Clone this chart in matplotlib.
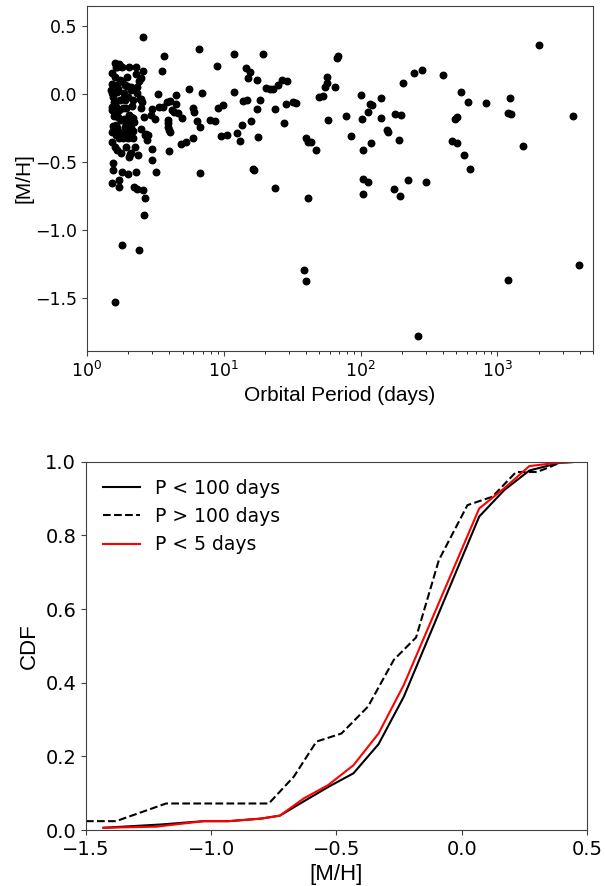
import numpy as np
import matplotlib
matplotlib.use('Agg')
import matplotlib.pyplot as plt

# orbital period (days) and metallicity
period = np.array([
    2.57, 3.64, 3.56, 6.56, 8.93, 11.8, 14.5, 15.5, 15.1, 17.6,
    3.29, 5.61, 6.90, 11.8, 18.3, 13.7, 14.7, 3.36, 3.60, 3.01,
    3.87, 4.03, 4.46, 4.46, 4.17, 4.33, 4.66, 4.98, 3.92, 3.89,
    5.97, 6.07, 6.42, 6.67, 7.94, 8.64, 9.14, 9.89, 17.4, 15.8,
    13.5, 12.5, 13.2, 17.7, 10.5, 9.61, 5.97, 4.90, 5.27, 3.89,
    3.98, 4.03, 3.98, 3.20, 6.71, 16.3, 16.5, 2.94, 3.15, 2.99,
    3.01, 2.72, 2.79, 2.76, 2.66, 2.60, 2.50, 2.50, 2.53,
    1.52, 1.55, 1.55, 1.71, 1.70, 1.80, 2.00, 2.27, 2.22, 2.32,
    2.57, 2.67, 2.60, 1.81, 2.39, 1.60,
    1.61, 1.71, 1.66, 1.75, 1.81, 2.03, 2.27, 2.57, 2.27, 1.59,
    2.50, 1.75, 1.81, 2.40, 1.52, 1.67, 1.89, 1.97, 2.08, 2.32,
    2.11, 1.51, 1.52, 1.69, 1.67, 1.85, 1.87, 1.89, 2.32, 2.46,
    2.17, 1.53, 1.59, 1.64, 1.71, 1.83, 1.94, 1.52, 1.62, 1.69,
    1.85, 2.02, 2.05, 2.11, 2.17, 2.19, 1.58, 1.55, 1.64, 1.66,
    1.53, 1.62, 1.71, 1.89, 2.03, 2.08, 2.17, 1.89, 1.71, 1.83,
    2.00, 2.17, 1.53, 1.59, 1.66, 1.78, 1.94, 2.23, 2.03, 2.05,
    2.09, 2.36, 2.50, 1.64, 1.94, 2.00,
    1.55, 1.73, 2.00, 1.78, 1.94, 1.58, 2.12, 1.95, 1.62, 1.52,
    19.5, 20.3, 21.6, 22.9, 25.0, 26.6, 29.1, 23.7, 28.6, 32.2,
    33.8, 27.6, 23.7, 41.4, 38.7, 39.8, 40.0, 41.2, 43.5, 47.1,
    49.3, 53.3, 54.6, 57.0, 57.0, 64.6, 66.7, 68.2, 57.4, 77.6,
    85.4, 100, 102.8, 104, 113, 118, 122, 140, 142, 119,
    157, 158, 192, 177, 197, 203, 244, 281, 104, 114,
    103.4, 175, 193, 223, 302, 261,
    400, 540, 614, 826, 1231, 487, 510, 1203, 1259, 466,
    510, 574, 635, 2006, 3597, 1541, 3960, 1203,
])
metal = np.array([
    0.42, 0.28, 0.17, 0.335, 0.21, 0.30, 0.19, 0.165, 0.12, 0.106,
    0.0, 0.037, 0.012, 0.015, -0.042, -0.049, -0.042, -0.094, -0.094, -0.108,
    -0.059, -0.047, -0.007, -0.074, -0.116, -0.128, -0.14, -0.175, -0.19, -0.209,
    -0.103, -0.128, -0.197, -0.244, -0.187, -0.197, -0.099, -0.079, -0.106, -0.197,
    -0.224, -0.283, -0.342, -0.315, -0.30, -0.308, -0.325, -0.365, -0.352, -0.244,
    -0.261, -0.276, -0.421, -0.574, -0.579, -0.554, -0.562, -0.155, -0.185, -0.404,
    -0.483, -0.296, -0.298, -0.335, -0.303, -0.17, -0.103, -0.034, -0.057,
    -0.653, -0.559, -0.51, -0.633, -0.687, -0.571, -0.589, -0.571, -0.682, -0.70,
    -0.707, -0.764, -0.89, -1.108, -1.145, -1.534,
    0.23, 0.22, 0.20, 0.21, 0.20, 0.20, 0.20, 0.17, 0.15, 0.13,
    0.12, 0.106, 0.10, 0.096, 0.074, 0.069, 0.069, 0.062, 0.052, 0.052,
    0.032, 0.032, 0.012, 0.037, 0.02, 0.007, -0.017, -0.042, 0.012, -0.037,
    -0.042, -0.091, -0.079, -0.091, -0.116, -0.103, -0.103, -0.116, -0.153, -0.17,
    -0.182, -0.153, -0.177, -0.165, -0.177, -0.202, -0.16, -0.234, -0.227, -0.246,
    -0.276, -0.283, -0.276, -0.239, -0.229, -0.251, -0.268, -0.283, -0.323, -0.323,
    -0.323, -0.323, -0.35, -0.387, -0.411, -0.436, -0.387, -0.387, -0.46, -0.441,
    -0.431, -0.448, -0.259, -0.30, -0.30, -0.288,
    -0.02, -0.04, -0.02, -0.19, -0.21, -0.06, -0.09, 0.13, 0.20, 0.16,
    0.296, 0.044, 0.039, 0.037, 0.069, 0.106, 0.099, -0.111, -0.071, -0.057,
    -0.062, -0.212, -0.69, -0.766, -1.298, -1.379, -0.325, -0.35, -0.35, -0.411,
    -0.017, -0.01, 0.052, 0.086, 0.13, 0.052, 0.27, 0.28, -0.187, -0.16,
    -0.31, -0.005, -0.18, -0.411, -0.133, -0.071, -0.079, -0.025, -0.172, -0.36,
    -0.264, -0.278, -0.337, -0.148, -0.155, 0.084, 0.16, 0.175, -0.626, -0.645,
    -0.734, -0.697, -0.751, -0.635, -0.65, -1.783,
    0.143, 0.02, -0.059, -0.062, -0.027, -0.182, -0.167, -0.14, -0.148, -0.347,
    -0.357, -0.451, -0.549, 0.365, -0.16, -0.382, -1.256, -1.372,
])

# cumulative distributions of [M/H]
mh_long = [-1.5, -1.38, -1.18, -0.77, -0.67, -0.58, -0.48, -0.374, -0.271,
           -0.182, -0.091, 0.023, 0.123, 0.217, 0.30, 0.35, 0.40]
cdf_long = [0.024, 0.024, 0.072, 0.072, 0.145, 0.24, 0.262, 0.335, 0.462,
            0.523, 0.733, 0.882, 0.905, 0.972, 0.972, 0.985, 1.0]
mh_short = [-1.43, -1.2, -1.03, -0.93, -0.8, -0.726, -0.63, -0.53, -0.432,
            -0.332, -0.231, 0.07, 0.17, 0.27, 0.39, 0.47]
cdf_short = [0.006, 0.015, 0.024, 0.024, 0.031, 0.039, 0.078, 0.118, 0.154,
             0.233, 0.362, 0.851, 0.923, 0.976, 0.997, 1.0]
mh_hot = [-1.43, -1.22, -1.03, -0.93, -0.8, -0.726, -0.63, -0.533, -0.432,
          -0.332, -0.231, 0.07, 0.17, 0.27, 0.38, 0.47]
cdf_hot = [0.006, 0.009, 0.024, 0.024, 0.031, 0.039, 0.086, 0.122, 0.176,
           0.262, 0.394, 0.873, 0.928, 0.988, 0.997, 1.0]

label_font = 'Liberation Sans'
spine_col = '0.25'

fig = plt.figure(figsize=(6.05, 8.86), dpi=100)

ax1 = fig.add_axes([0.1438, 0.6042, 0.8364, 0.389])
ax1.scatter(period, metal, s=22, color='black', zorder=3)
ax1.set_xscale('log')
ax1.set_xlim(1, 5000)
ax1.set_ylim(-1.89, 0.65)
ax1.set_yticks([-1.5, -1.0, -0.5, 0.0, 0.5])
ax1.set_xlabel('Orbital Period (days)', fontsize=15, family=label_font)
ax1.set_ylabel('[M/H]', fontsize=15, family=label_font, labelpad=1)
ax1.tick_params(labelsize=12.5, colors=spine_col, labelcolor='black')
for s in ax1.spines.values():
    s.set_color(spine_col)

ax2 = fig.add_axes([0.1421, 0.0632, 0.828, 0.4157])
ax2.plot(mh_short, cdf_short, color='black', lw=1.5, label='P < 100 days')
ax2.plot(mh_long, cdf_long, color='black', lw=1.5, ls='--', label='P > 100 days')
ax2.plot(mh_hot, cdf_hot, color='red', lw=1.5, label='P < 5 days')
ax2.set_xlim(-1.5, 0.5)
ax2.set_ylim(0, 1)
ax2.set_xticks([-1.5, -1.0, -0.5, 0.0, 0.5])
ax2.set_xlabel('[M/H]', fontsize=16, family=label_font)
ax2.set_ylabel('CDF', fontsize=16, family=label_font)
ax2.tick_params(labelsize=14, colors=spine_col, labelcolor='black')
for s in ax2.spines.values():
    s.set_color(spine_col)
ax2.legend(loc='upper left', frameon=False, fontsize=13.5)

fig.savefig('out.png', dpi=100)
